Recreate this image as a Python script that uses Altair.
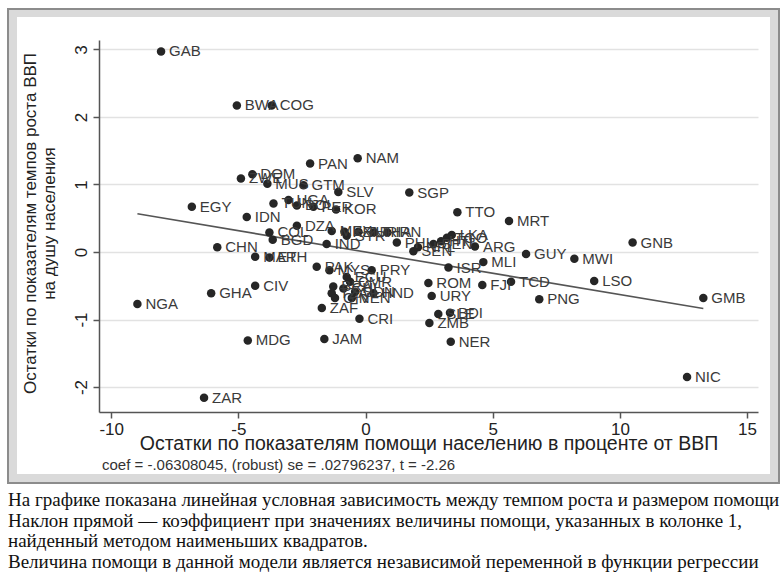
import altair as alt
import pandas as pd

# Country codes and partial-regression residuals
codes = [
    "GAB", "BWA", "COG", "PAN", "NAM", "DOM", "ZWE", "MUS", "GTM", "SLV",
    "SGP", "EGY", "IDN", "TUN", "UGA", "BOL", "PER", "KOR", "DZA", "COL",
    "BGD", "IND", "CHN", "MAR", "ETH", "MEX", "KEN", "SYR", "TUR", "THA",
    "IRN", "PHL", "SEN", "NPL", "BEN", "HTI", "TGO", "LKA", "ARG", "TTO",
    "MRT", "GUY", "MWI", "GNB", "GMB", "LSO", "PNG", "TCD", "FJI", "MLI",
    "ISR", "ROM", "URY", "SLE", "BDI", "ZMB", "NER", "NIC", "ZAR", "JAM",
    "MDG", "CRI", "ZAF", "GHA", "CIV", "NGA", "PAK", "PRY", "MYS", "ECU",
    "CMR", "BRA", "CHL", "TZA", "GIN", "SDN", "VEN", "HND",
]
aid_resid = [
    -8.04, -5.06, -3.69, -2.18, -0.31, -4.45, -4.90, -3.86, -2.44, -1.07,
    1.72, -6.83, -4.67, -3.62, -3.03, -2.70, -2.05, -1.16, -2.70, -3.78,
    -3.65, -1.53, -5.83, -4.34, -3.78, -1.33, -0.83, -0.74, -0.28, 0.31,
    0.86, 1.23, 1.88, 2.06, 2.67, 2.97, 3.20, 3.39, 4.30, 3.61,
    5.64, 6.31, 8.21, 10.50, 13.28, 8.99, 6.83, 5.72, 4.59, 4.63,
    3.26, 2.47, 2.60, 2.86, 3.32, 2.51, 3.35, 12.64, -6.35, -1.62,
    -4.63, -0.24, -1.72, -6.07, -4.34, -8.97, -1.92, 0.24, -1.42, -0.74,
    -0.61, -1.27, -0.87, -1.33, -1.20, -0.41, -0.54, 0.31,
]
growth_resid = [
    2.97, 2.17, 2.17, 1.31, 1.39, 1.15, 1.09, 1.01, 0.99, 0.89,
    0.88, 0.67, 0.52, 0.72, 0.77, 0.69, 0.67, 0.63, 0.39, 0.29,
    0.18, 0.12, 0.07, -0.07, -0.08, 0.31, 0.30, 0.24, 0.30, 0.29,
    0.29, 0.14, 0.01, 0.07, 0.12, 0.16, 0.21, 0.25, 0.08, 0.59,
    0.46, -0.03, -0.10, 0.14, -0.68, -0.43, -0.70, -0.44, -0.49, -0.15,
    -0.23, -0.46, -0.65, -0.92, -0.90, -1.05, -1.33, -1.85, -2.16, -1.29,
    -1.31, -0.99, -0.83, -0.61, -0.50, -0.77, -0.22, -0.27, -0.27, -0.37,
    -0.44, -0.51, -0.54, -0.61, -0.68, -0.59, -0.68, -0.61,
]

coef = -0.06308045
x_ticks = [-10, -5, 0, 5, 10, 15]
y_ticks = [-2, -1, 0, 1, 2, 3]

x_title = "Остатки по показателям помощи населению в проценте от ВВП"
y_title = ["Остатки по показателям темпов роста ВВП", "на душу населения"]
stats_note = "coef = -.06308045, (robust) se = .02796237, t = -2.26"
caption = [
    "На графике показана линейная условная зависимость между темпом роста и размером помощи",
    "Наклон прямой — коэффициент при значениях величины помощи, указанных в колонке 1,",
    "найденный методом наименьших квадратов.",
    "Величина помощи в данной модели является независимой переменной в функции регрессии",
]

pts = pd.DataFrame({"code": codes, "aid": aid_resid, "growth": growth_resid})
fit_x = [min(aid_resid), max(aid_resid)]
fit = pd.DataFrame({"aid": fit_x, "growth": [coef * v for v in fit_x]})

W, H = 659, 372
SANS = "Liberation Sans"
# plain hyphen for negative tick labels
TICK_LABEL = "'' + datum.value"

xs = alt.Scale(domain=[-10.48, 15.43], nice=False, zero=False)
ys = alt.Scale(domain=[-2.37, 3.14], nice=False, zero=False)

x_enc = alt.X(
    "aid:Q", scale=xs, title=x_title,
    axis=alt.Axis(values=x_ticks, grid=False, labelFontSize=17, titleFontSize=19.5,
                  labelPadding=3, tickSize=6, labelExpr=TICK_LABEL,
                  titleY=31, titleBaseline="middle", labelFlush=False),
)
y_enc = alt.Y(
    "growth:Q", scale=ys, title=y_title,
    axis=alt.Axis(values=y_ticks, grid=True, gridColor="#e2e2e2", gridWidth=1.5,
                  labelAngle=270, labelAlign="center", labelBaseline="bottom",
                  labelFontSize=17, labelPadding=3, tickSize=6, labelExpr=TICK_LABEL,
                  titleFontSize=17, titleLineHeight=19, titleX=-77, titleY=183,
                  titleBaseline="top", labelFlush=False),
)

base = alt.Chart(pts)

points = base.mark_circle(size=72, color="#262626", opacity=1).encode(x=x_enc, y=y_enc)

labels = base.mark_text(align="left", baseline="middle", dx=8, fontSize=15,
                        font=SANS, color="#3a3a3a").encode(
    x=alt.X("aid:Q", scale=xs), y=alt.Y("growth:Q", scale=ys), text="code:N")

fit_line = alt.Chart(fit).mark_line(color="#555555", strokeWidth=1.6).encode(
    x=alt.X("aid:Q", scale=xs), y=alt.Y("growth:Q", scale=ys))

one = pd.DataFrame({"k": [0]})

# Light frame around the graph region
frame_band = alt.Chart(one).mark_rect(fillOpacity=0, stroke="#dadada", strokeWidth=8).encode(
    x=alt.value(-86), x2=alt.value(W + 16), y=alt.value(-27), y2=alt.value(H + 66))
frame_edge = alt.Chart(one).mark_rect(fillOpacity=0, stroke="#8c8c8c", strokeWidth=2).encode(
    x=alt.value(-91), x2=alt.value(W + 21), y=alt.value(-31), y2=alt.value(H + 71))

note = alt.Chart(one).mark_text(align="left", baseline="middle", fontSize=15,
                                font=SANS, color="#333333").encode(
    x=alt.value(3), y=alt.value(H + 53), text=alt.value(stats_note))

caption_text = alt.Chart(one).mark_text(align="left", baseline="middle", fontSize=19,
                                        font="Liberation Serif", color="#111111",
                                        lineHeight=20.5).encode(
    x=alt.value(-91), y=alt.value(H + 88), text=alt.value(caption))

chart = alt.layer(frame_band, frame_edge, fit_line, points, labels, note, caption_text).properties(
    width=W, height=H,
    autosize=alt.AutoSizeParams(type="none"),
    padding={"left": 99, "top": 40, "right": 783 - 99 - W, "bottom": 578 - 40 - H},
    background="white",
).configure_view(stroke=None).configure_axis(
    domainColor="#555555", tickColor="#555555", labelColor="#222222",
    titleColor="#222222", labelFont=SANS, titleFont=SANS,
    titleFontWeight="normal", domainWidth=1.5, tickWidth=1.5,
)

chart.save("out.html", embed_options={"renderer": "svg", "actions": False})
